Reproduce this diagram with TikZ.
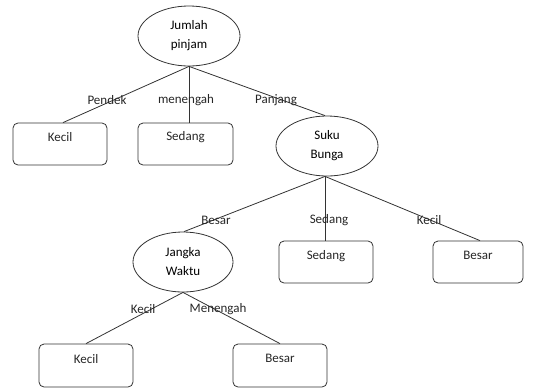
\documentclass[tikz,border=0pt]{standalone}
\usepackage{fontspec}
\setmainfont{Carlito}
\usetikzlibrary{shapes.geometric}
\begin{document}
\begin{tikzpicture}[x=1pt,y=1pt,
  lc/.style={draw=black!80, line width=0.8pt},
  ell/.style={lc, ellipse, minimum width=102pt, minimum height=60pt, inner sep=0pt, align=center, font=\fontsize{13}{19}\selectfont},
  boxn/.style={lc, rectangle, rounded corners=5pt, minimum width=94pt, minimum height=42pt, inner sep=0pt},
  txt/.style={font=\fontsize{13}{19}\selectfont, inner sep=0pt, text=black!85},
  edge/.style={lc}]
\useasboundingbox (0,0) rectangle (545,-389);
% nodes
\node[ell] (root) at (189,-36) {Jumlah\\pinjam};
\node[boxn] (k1) at (60,-144) {};
\node[txt] (k1t) at ([yshift=-14pt]k1.north) {Kecil};
\node[boxn, minimum width=95pt] (s1) at (185.5,-144) {};
\node[txt] (s1t) at ([yshift=-14pt]s1.north) {Sedang};
\node[ell] (suku) at (327,-146) {Suku\\Bunga};
\node[ell, minimum width=100pt] (jangka) at (183,-262) {Jangka\\Waktu};
\node[boxn] (s2) at (326,-262) {};
\node[txt] (s2t) at ([yshift=-15pt]s2.north) {Sedang};
\node[boxn, minimum width=90pt] (b1) at (478,-262) {};
\node[txt] (b1t) at ([yshift=-15pt]b1.north) {Besar};
\node[boxn, minimum height=43pt] (k2) at (86,-365.5) {};
\node[txt] (k2t) at ([yshift=-15pt]k2.north) {Kecil};
\node[boxn, minimum height=43pt] (b2) at (280,-365.5) {};
\node[txt] (b2t) at ([yshift=-15pt]b2.north) {Besar};
% edges
\draw[edge] (root.south) -- ([xshift=3pt]k1.north);
\draw[edge] (root.south) -- (root.south |- s1.north);
\draw[edge] (root.south) -- ([xshift=-2pt]suku.north);
\draw[edge] ([xshift=-2pt]suku.south) -- ([xshift=1pt]jangka.north);
\draw[edge] ([xshift=-2pt]suku.south) -- ([xshift=-2pt]suku.south |- s2.north);
\draw[edge] ([xshift=-2pt]suku.south) -- ([xshift=2pt]b1.north);
\draw[edge] (jangka.south) -- (k2.north);
\draw[edge] (jangka.south) -- (b2.north);
% edge labels
\node[txt] (l1) at (107,-100) {Pendek};
\node[txt] (l2) at (186,-100) {menengah};
\node[txt] (l3) at (276,-100) {Panjang};
\node[txt] (l4) at (216,-220) {Besar};
\node[txt] (l5) at (329,-220) {Sedang};
\node[txt] (l6) at (429,-220) {Kecil};
\node[txt] (l7) at (143,-309) {Kecil};
\node[txt] (l8) at (218,-309) {Menengah};
\end{tikzpicture}
\end{document}
